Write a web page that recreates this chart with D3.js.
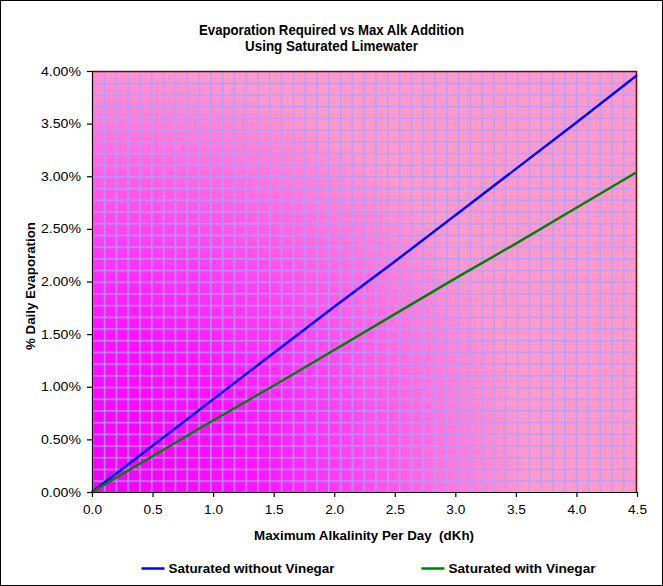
<!DOCTYPE html>
<html><head><meta charset="utf-8">
<script src="https://cdn.jsdelivr.net/npm/d3@7"></script>
<style>body{margin:0;background:#fff}svg{display:block}text{font-family:"Liberation Sans",Arial,sans-serif;white-space:pre}</style>
</head><body>
<script>
const alkalinity = [0, 0.5, 1.0, 1.5, 2.0, 2.5, 3.0, 3.5, 4.0, 4.5];
const withoutVinegar = [0, 0.0044, 0.0088, 0.0132, 0.0176, 0.0219, 0.0263, 0.0307, 0.0351, 0.0396];
const withVinegar = [0, 0.0034, 0.0068, 0.0101, 0.0135, 0.0169, 0.0203, 0.0236, 0.0270, 0.0304];
const xTicks = [0, 0.5, 1.0, 1.5, 2.0, 2.5, 3.0, 3.5, 4.0, 4.5];
const yTicks = [0, 0.005, 0.01, 0.015, 0.02, 0.025, 0.03, 0.035, 0.04];
const seriesNames = ["Saturated without Vinegar", "Saturated with Vinegar"];
const seriesColors = ["#0000FF", "#008000"];
const titleLines = ["Evaporation Required vs Max Alk Addition", "Using Saturated Limewater"];
const xTitle = "Maximum Alkalinity Per Day  (dKh)";
const yTitle = "% Daily Evaporation";

const W = 663, H = 586;
const L = 92, R = 637, T = 71, B = 492;
const svg = d3.select("body").append("svg").attr("width", W).attr("height", H);
svg.append("rect").attr("x", 0.5).attr("y", 0.5).attr("width", W - 1).attr("height", H - 1)
  .attr("fill", "#fff").attr("stroke", "#000");

const defs = svg.append("defs");
const rg = defs.append("radialGradient").attr("id", "bg").attr("gradientUnits", "userSpaceOnUse")
  .attr("cx", L).attr("cy", B).attr("r", 530);
[[0, "#F000F0"], [0.3, "#FF10FF"], [0.5, "#FF44F0"], [0.68, "#FF77DD"], [0.82, "#FF99CC"], [1, "#FF99CC"]]
  .forEach(([o, c]) => rg.append("stop").attr("offset", o).attr("stop-color", c));
const pat = defs.append("pattern").attr("id", "grid").attr("patternUnits", "userSpaceOnUse")
  .attr("x", L).attr("y", B).attr("width", 11.8).attr("height", 11.7);
pat.append("rect").attr("x", 0).attr("y", 0).attr("width", 1.6).attr("height", 11.7).attr("fill", "#A8A0FF").attr("fill-opacity", 0.8);
pat.append("rect").attr("x", 0).attr("y", 0).attr("width", 11.8).attr("height", 1.6).attr("fill", "#A8A0FF").attr("fill-opacity", 0.8);

const x = d3.scaleLinear().domain([0, 4.5]).range([L, R]);
const y = d3.scaleLinear().domain([0, 0.04]).range([B, T]);

svg.append("rect").attr("x", L).attr("y", T).attr("width", R - L).attr("height", B - T).attr("fill", "url(#bg)");
svg.append("rect").attr("x", L).attr("y", T).attr("width", R - L).attr("height", B - T).attr("fill", "url(#grid)");
svg.append("path").attr("d", `M${L},${T + 0.5}H${R - 0.5}V${B}`).attr("fill", "none").attr("stroke", "#800000").attr("stroke-width", 1.5);

// lines
[withoutVinegar, withVinegar].forEach((vals, i) => {
  const line = d3.line().x((d, j) => x(alkalinity[j])).y(d => y(d));
  svg.append("path").datum(vals).attr("d", line).attr("fill", "none")
    .attr("stroke", seriesColors[i]).attr("stroke-width", 2.4);
});

// axes
const xAxis = svg.append("g").attr("transform", `translate(0,${B})`)
  .call(d3.axisBottom(x).tickValues(xTicks).tickFormat(d3.format(".1f")).tickSize(5).tickSizeOuter(0).tickPadding(8));
const yAxis = svg.append("g").attr("transform", `translate(${L},0)`)
  .call(d3.axisLeft(y).tickValues(yTicks).tickFormat(d3.format(".2%")).tickSize(5).tickSizeOuter(0).tickPadding(6));
[xAxis, yAxis].forEach(g => {
  g.selectAll("path,line").attr("stroke", "#000").attr("stroke-width", 1.2);
  g.selectAll("text").attr("fill", "#000").style("font-size", "12.5px").attr("lengthAdjust", "spacingAndGlyphs");
});
xAxis.selectAll("text").attr("textLength", 19);
yAxis.selectAll("text").attr("textLength", 40);

// titles
titleLines.forEach((t, i) => {
  svg.append("text").attr("x", 331.5).attr("y", 35 + i * 16).attr("text-anchor", "middle")
    .style("font-size", "14px").style("font-weight", "bold")
    .attr("textLength", i === 0 ? 265 : 173).attr("lengthAdjust", "spacingAndGlyphs").text(t);
});
svg.append("text").attr("x", 364).attr("y", 540).attr("text-anchor", "middle")
  .style("font-size", "13.5px").style("font-weight", "bold")
  .attr("textLength", 220).attr("lengthAdjust", "spacingAndGlyphs").text(xTitle);
svg.append("text").attr("transform", "translate(35,286) rotate(-90)").attr("text-anchor", "middle")
  .style("font-size", "13.5px").style("font-weight", "bold")
  .attr("textLength", 128).attr("lengthAdjust", "spacingAndGlyphs").text(yTitle);

// legend
const legX = [141.5, 421.5], legTextW = [166, 147];
seriesNames.forEach((n, i) => {
  svg.append("line").attr("x1", legX[i]).attr("x2", legX[i] + 23).attr("y1", 568.5).attr("y2", 568.5)
    .attr("stroke", seriesColors[i]).attr("stroke-width", 2.5);
  svg.append("text").attr("x", legX[i] + 27).attr("y", 573).style("font-size", "13.5px").style("font-weight", "bold")
    .attr("textLength", legTextW[i]).attr("lengthAdjust", "spacingAndGlyphs").text(n);
});
</script>
</body></html>
